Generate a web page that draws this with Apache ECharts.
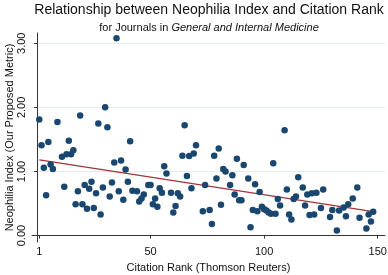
<!DOCTYPE html>
<html>
<head>
<meta charset="utf-8">
<script src="https://cdn.jsdelivr.net/npm/echarts@6/dist/echarts.min.js"></script>
<style>
  html, body { margin: 0; padding: 0; background: #fff; }
  #chart { width: 388px; height: 275px; }
</style>
</head>
<body>
<div id="chart"></div>
<script>
// citation rank of each journal and its neophilia index
var ranks = [1, 2, 3, 4, 5, 6, 7, 9, 11, 12, 13, 14, 15, 16, 17, 18, 19, 20, 21, 22,
  23, 24, 25, 26, 27, 28, 29, 30, 31, 32, 33, 34, 35, 36, 37, 38, 39, 40, 41, 42,
  44, 45, 46, 47, 49, 50, 51, 52, 53, 54, 55, 56, 57, 59, 60, 61, 62, 63, 64, 65,
  66, 67, 68, 69, 70, 73, 74, 76, 77, 78, 79, 80, 81, 82, 83, 85, 86, 87, 88, 89,
  90, 91, 93, 94, 95, 96, 97, 98, 99, 100, 101, 102, 103, 104, 105, 106, 107, 109, 110, 111,
  112, 113, 114, 115, 117, 118, 119, 120, 121, 122, 123, 125, 126, 129, 130, 132, 133, 135, 136, 137,
  139, 141, 142, 145, 146, 147, 148]
var neophilia = [1.81, 1.41, 1.06, 0.63, 1.46, 1.11, 1.04, 1.77, 1.23, 0.76, 1.27, 1.48, 1.27, 1.33, 0.49, 0.69, 1.875, 0.49, 0.79, 0.42,
  0.73, 0.84, 0.43, 0.66, 1.75, 0.33, 0.75, 2.0, 1.69, 0.61, 0.83, 1.14, 3.08, 0.69, 1.17, 0.56, 1.03, 0.84, 1.47, 0.70,
  0.69, 0.53, 0.58, 0.64, 0.79, 0.79, 0.49, 0.58, 0.45, 0.74, 0.67, 1.08, 0.97, 0.67, 0.36, 0.46, 0.66, 0.61, 1.245, 1.72,
  0.93, 1.24, 0.74, 1.28, 1.41, 0.38, 0.79, 0.40, 0.18, 1.245, 0.89, 1.36, 0.48, 1.04, 1.0, 0.79, 0.94, 0.64, 1.2, 0.55,
  0.55, 1.10, 0.89, 0.13, 0.40, 0.80, 0.38, 0.68, 0.45, 0.41, 0.39, 0.36, 0.34, 1.13, 0.34, 0.57, 0.47, 1.645, 0.72, 0.33,
  0.25, 0.57, 0.61, 0.91, 0.75, 0.47, 0.64, 0.32, 0.66, 0.33, 0.67, 0.43, 0.72, 0.29, 0.40, 0.08, 0.39, 0.44, 0.30, 0.49,
  0.58, 0.75, 0.28, 0.11, 0.33, 0.22, 0.37]
// fitted line end points
var fitX = [1, 148]
var fitY = [1.18, 0.375]
var xTicks = [1, 50, 100, 150]
var yTicks = [0, 1, 2, 3]

var points = ranks.map(function (r, i) { return [r, neophilia[i]] })
var fitLine = fitX.map(function (x, i) { return [x, fitY[i]] })

var myChart = echarts.init(document.getElementById('chart'))
var font = 'Liberation Sans, Arial, sans-serif'
var option = {
  animation: false,
  title: {
    text: 'Relationship between Neophilia Index and Citation Rank',
    subtext: '{n|for Journals in }{i|General and Internal Medicine}',
    left: 209,
    textAlign: 'center',
    top: 3,
    itemGap: 5,
    padding: 0,
    textStyle: { fontFamily: font, fontSize: 14, fontWeight: 'normal', color: '#111' },
    subtextStyle: {
      fontFamily: font,
      fontSize: 11,
      color: '#111',
      rich: {
        n: { fontFamily: font, fontSize: 11, color: '#111' },
        i: { fontFamily: font, fontSize: 11, color: '#111', fontStyle: 'italic' },
      },
    },
  },
  grid: { left: 32, right: 3, top: 33, bottom: 33, containLabel: false, outerBoundsMode: 'none' },
  xAxis: {
    type: 'value',
    min: -2.2,
    max: 153.2,
    name: 'Citation Rank (Thomson Reuters)',
    nameLocation: 'middle',
    nameGap: 20,
    nameMoveOverlap: false,
    nameTextStyle: { fontFamily: font, fontSize: 11, color: '#111' },
    axisLine: { show: true, lineStyle: { color: '#333', width: 1 } },
    axisTick: { show: true, length: 3, customValues: xTicks, lineStyle: { color: '#333' } },
    axisLabel: { customValues: xTicks, margin: 4, fontFamily: font, fontSize: 11, color: '#111' },
    splitLine: { show: false },
  },
  yAxis: {
    type: 'value',
    min: -0.1,
    max: 3.16,
    name: 'Neophilia Index (Our Proposed Metric)',
    nameLocation: 'middle',
    nameGap: 17,
    nameMoveOverlap: false,
    nameTextStyle: { fontFamily: font, fontSize: 11, color: '#111' },
    axisLine: { show: true, lineStyle: { color: '#333', width: 1 } },
    axisTick: { show: true, length: 3, customValues: yTicks, lineStyle: { color: '#333' } },
    axisLabel: {
      customValues: yTicks,
      rotate: 90,
      margin: 5,
      fontFamily: font,
      fontSize: 11,
      color: '#111',
      formatter: function (v) { return v.toFixed(2) },
    },
    splitLine: { show: true, lineStyle: { color: '#e4ecee', width: 1.2 } },
  },
  series: [
    {
      type: 'line',
      data: fitLine,
      symbol: 'none',
      lineStyle: { color: '#a0353b', width: 1.3 },
      z: 1,
    },
    {
      type: 'scatter',
      data: points,
      symbol: 'circle',
      symbolSize: 6.5,
      itemStyle: { color: '#1a476f', opacity: 1 },
      z: 2,
    },
  ],
}
myChart.setOption(option, true)
</script>
</body>
</html>
